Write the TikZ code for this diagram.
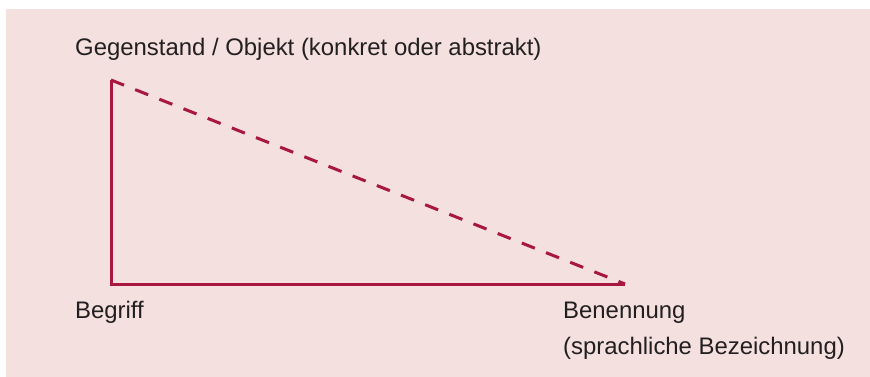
\documentclass[tikz,border=0pt]{standalone}
\usepackage{fontspec}
\setmainfont{Liberation Sans}
\definecolor{bgpink}{HTML}{F3E0DF}
\definecolor{crimson}{HTML}{A8173F}
\definecolor{txt}{HTML}{231F20}
\begin{document}
\begin{tikzpicture}[x=1pt,y=-1pt,
  lbl/.style={anchor=base west,inner sep=0pt,text=txt,font=\fontsize{23.9}{28}\selectfont},
  edge/.style={draw=crimson,line width=3pt},
  dashedge/.style={edge,dash pattern=on 14pt off 12pt}]
\useasboundingbox (0,0) rectangle (870,377);
\fill[bgpink] (6,9) rectangle (870,377);
\coordinate (top) at (111,80);
\coordinate (bl) at (111,284);
\coordinate (br) at (625,284);
\draw[edge,line cap=butt,line join=miter] (br) -- (bl) -- (top);
\draw[dashedge] (top) -- (br);
\node[lbl] (gegen) at (75,56) {Gegenstand / Objekt (konkret oder abstrakt)};
\node[lbl] (begriff) at (75,318) {Begriff};
\node[lbl] (benenn) at (563,318) {Benennung};
\node[lbl] (sprach) at (563,354) {(sprachliche Bezeichnung)};
\end{tikzpicture}
\end{document}
